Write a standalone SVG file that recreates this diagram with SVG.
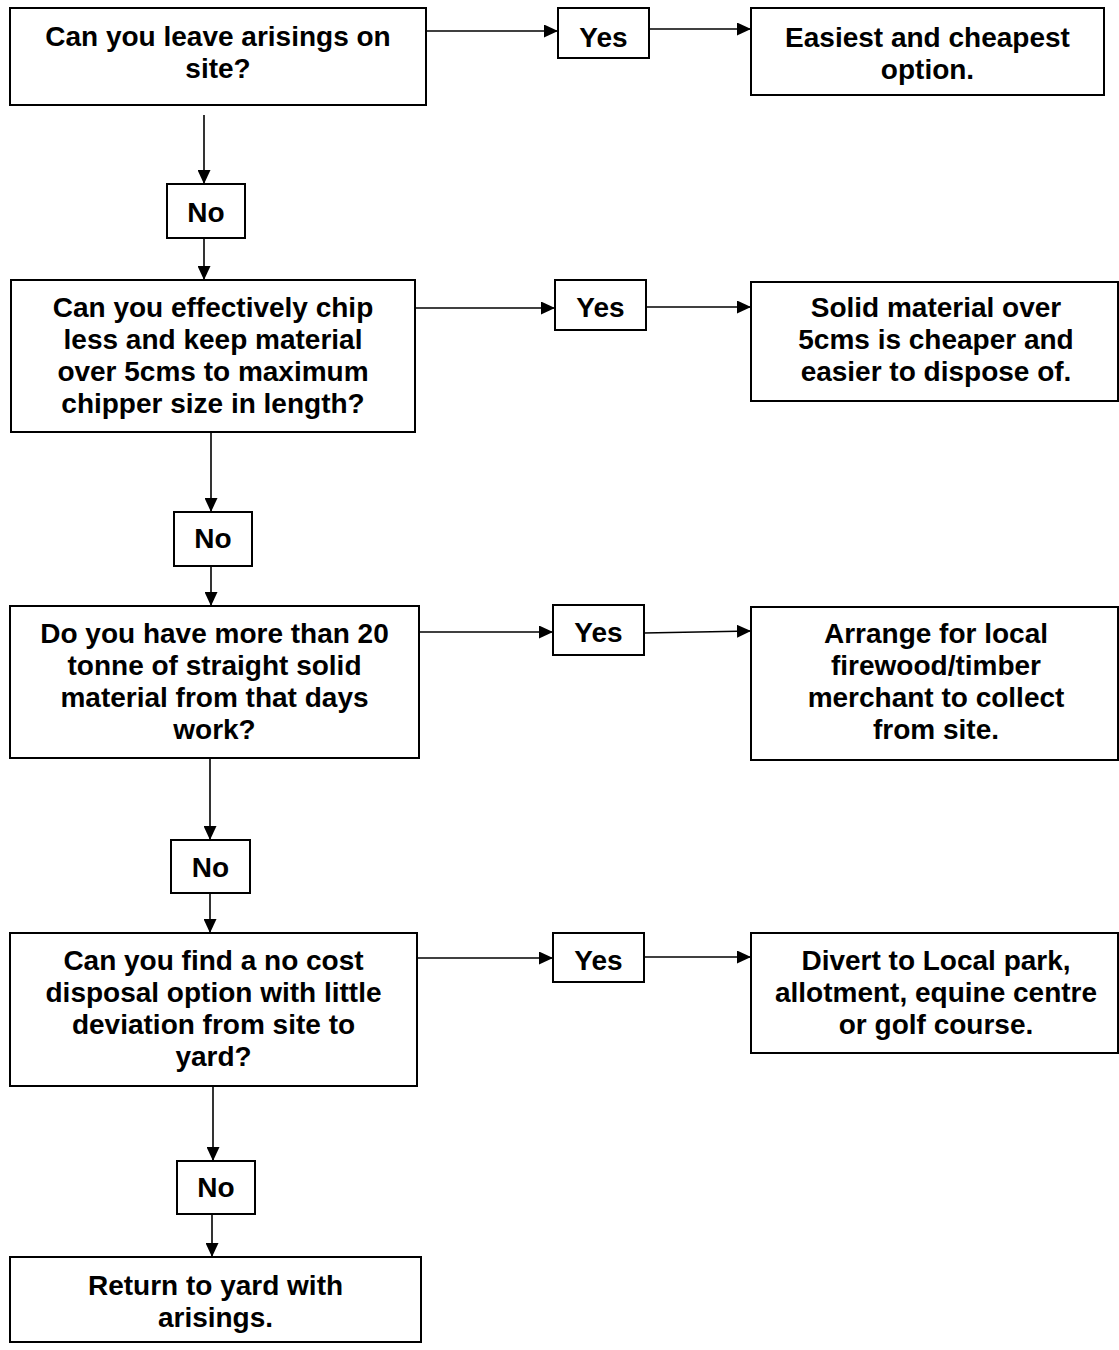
<svg xmlns="http://www.w3.org/2000/svg" width="1119" height="1350" viewBox="0 0 1119 1350">
<style>
.box{fill:#fff;stroke:#000;stroke-width:2}
.t{font-family:"Liberation Sans",Arial,sans-serif;font-weight:bold;font-size:28px;fill:#000;text-anchor:middle}
.c{stroke:#000;stroke-width:1.6;fill:none;marker-end:url(#ah)}
</style>
<defs>
<marker id="ah" markerUnits="userSpaceOnUse" markerWidth="14" markerHeight="13" refX="14" refY="6.5" orient="auto">
<path d="M0,0 L14,6.5 L0,13 z" fill="#000"/>
</marker>
</defs>
<rect width="1119" height="1350" fill="#fff"/>
<g id="connectors">
<line class="c" x1="426" y1="31" x2="558" y2="31"/>
<line class="c" x1="649" y1="29" x2="751" y2="29"/>
<line class="c" x1="204" y1="115" x2="204" y2="184"/>
<line class="c" x1="204" y1="238" x2="204" y2="280"/>
<line class="c" x1="415" y1="308" x2="555" y2="308"/>
<line class="c" x1="646" y1="307" x2="751" y2="307"/>
<line class="c" x1="211" y1="432" x2="211" y2="512"/>
<line class="c" x1="211" y1="566" x2="211" y2="606"/>
<line class="c" x1="419" y1="632" x2="553" y2="632"/>
<line class="c" x1="644" y1="633" x2="751" y2="631"/>
<line class="c" x1="210" y1="758" x2="210" y2="840"/>
<line class="c" x1="210" y1="893" x2="210" y2="933"/>
<line class="c" x1="417" y1="958" x2="553" y2="958"/>
<line class="c" x1="644" y1="957" x2="751" y2="957"/>
<line class="c" x1="213" y1="1086" x2="213" y2="1161"/>
<line class="c" x1="212" y1="1214" x2="212" y2="1257"/>
</g>
<g id="q1">
<rect class="box" x="10" y="8" width="416" height="97"/>
<text class="t" x="218" y="46">Can you leave arisings on</text>
<text class="t" x="218" y="78">site?</text>
</g>
<g id="yes1">
<rect class="box" x="558" y="8" width="91" height="50"/>
<text class="t" x="603.5" y="47">Yes</text>
</g>
<g id="r1">
<rect class="box" x="751" y="8" width="353" height="87"/>
<text class="t" x="927.5" y="47">Easiest and cheapest</text>
<text class="t" x="927.5" y="79">option.</text>
</g>
<g id="no1">
<rect class="box" x="167" y="184" width="78" height="54"/>
<text class="t" x="206" y="222">No</text>
</g>
<g id="q2">
<rect class="box" x="11" y="280" width="404" height="152"/>
<text class="t" x="213" y="317">Can you effectively chip</text>
<text class="t" x="213" y="349">less and keep material</text>
<text class="t" x="213" y="381">over 5cms to maximum</text>
<text class="t" x="213" y="413">chipper size in length?</text>
</g>
<g id="yes2">
<rect class="box" x="555" y="280" width="91" height="50"/>
<text class="t" x="600.5" y="317">Yes</text>
</g>
<g id="r2">
<rect class="box" x="751" y="282" width="367" height="119"/>
<text class="t" x="936" y="317">Solid material over</text>
<text class="t" x="936" y="349">5cms is cheaper and</text>
<text class="t" x="936" y="381">easier to dispose of.</text>
</g>
<g id="no2">
<rect class="box" x="174" y="512" width="78" height="54"/>
<text class="t" x="213" y="548">No</text>
</g>
<g id="q3">
<rect class="box" x="10" y="606" width="409" height="152"/>
<text class="t" x="214.5" y="643">Do you have more than 20</text>
<text class="t" x="214.5" y="675">tonne of straight solid</text>
<text class="t" x="214.5" y="707">material from that days</text>
<text class="t" x="214.5" y="739">work?</text>
</g>
<g id="yes3">
<rect class="box" x="553" y="605" width="91" height="50"/>
<text class="t" x="598.5" y="642">Yes</text>
</g>
<g id="r3">
<rect class="box" x="751" y="607" width="367" height="153"/>
<text class="t" x="936" y="643">Arrange for local</text>
<text class="t" x="936" y="675">firewood/timber</text>
<text class="t" x="936" y="707">merchant to collect</text>
<text class="t" x="936" y="739">from site.</text>
</g>
<g id="no3">
<rect class="box" x="171" y="840" width="79" height="53"/>
<text class="t" x="210.5" y="877">No</text>
</g>
<g id="q4">
<rect class="box" x="10" y="933" width="407" height="153"/>
<text class="t" x="213.5" y="970">Can you find a no cost</text>
<text class="t" x="213.5" y="1002">disposal option with little</text>
<text class="t" x="213.5" y="1034">deviation from site to</text>
<text class="t" x="213.5" y="1066">yard?</text>
</g>
<g id="yes4">
<rect class="box" x="553" y="933" width="91" height="49"/>
<text class="t" x="598.5" y="970">Yes</text>
</g>
<g id="r4">
<rect class="box" x="751" y="933" width="367" height="120"/>
<text class="t" x="936" y="970">Divert to Local park,</text>
<text class="t" x="936" y="1002">allotment, equine centre</text>
<text class="t" x="936" y="1034">or golf course.</text>
</g>
<g id="no4">
<rect class="box" x="177" y="1161" width="78" height="53"/>
<text class="t" x="216" y="1197">No</text>
</g>
<g id="end">
<rect class="box" x="10" y="1257" width="411" height="85"/>
<text class="t" x="215.5" y="1295">Return to yard with</text>
<text class="t" x="215.5" y="1327">arisings.</text>
</g>
</svg>
